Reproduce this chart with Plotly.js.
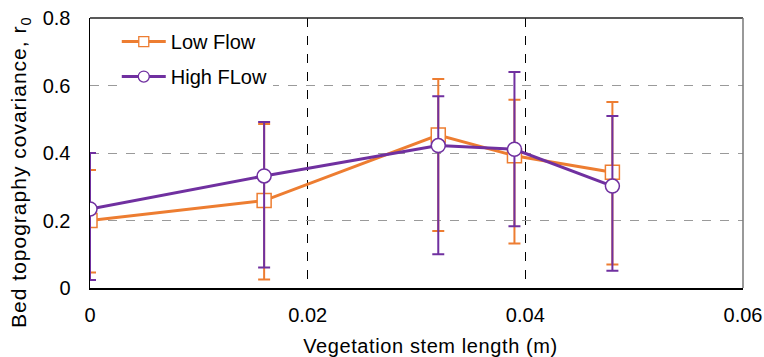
<!DOCTYPE html>
<html>
<head>
<meta charset="utf-8">
<script src="https://cdn.plot.ly/plotly-3.0.1.min.js"></script>
<style>
html,body{margin:0;padding:0;background:#fff;}
#chart{width:764px;height:357px;}
#chart .annotation-text{letter-spacing:0.6px;}
</style>
</head>
<body>
<div id="chart"></div>
<script>
var stemLength = [0, 0.016, 0.032, 0.039, 0.048];
var lowFlow = [0.20, 0.259, 0.453, 0.392, 0.343];
var lowFlowUpper = [0.35, 0.486, 0.619, 0.558, 0.551];
var lowFlowLower = [0.046, 0.025, 0.169, 0.132, 0.070];
var highFlow = [0.234, 0.332, 0.422, 0.411, 0.302];
var highFlowUpper = [0.40, 0.492, 0.568, 0.640, 0.510];
var highFlowLower = [0.024, 0.061, 0.100, 0.183, 0.051];
var xTicks = [0, 0.02, 0.04, 0.06];
var xTickText = ['0', '0.02', '0.04', '0.06'];
var yTicks = [0, 0.2, 0.4, 0.6, 0.8];
var yTickText = ['0', '0.2', '0.4', '0.6', '0.8'];
var seriesNames = ['Low Flow', 'High FLow'];

var orange = '#ED7D31';
var purple = '#7030A0';

function diff(a, b) { return a.map(function (v, i) { return v - b[i]; }); }

var traces = [
  {
    x: stemLength, y: lowFlow, name: seriesNames[0], type: 'scatter', mode: 'lines+markers',
    showlegend: false,
    line: {color: orange, width: 3},
    marker: {symbol: 'square', size: 14, color: '#fff', line: {color: orange, width: 1.5}},
    error_y: {type: 'data', symmetric: false, array: diff(lowFlowUpper, lowFlow), arrayminus: diff(lowFlow, lowFlowLower),
      color: orange, thickness: 2, width: 6}
  },
  {
    x: stemLength, y: highFlow, name: seriesNames[1], type: 'scatter', mode: 'lines+markers',
    showlegend: false,
    line: {color: purple, width: 3},
    marker: {symbol: 'circle', size: 14, color: '#fff', line: {color: purple, width: 1.5}},
    error_y: {type: 'data', symmetric: false, array: diff(highFlowUpper, highFlow), arrayminus: diff(highFlow, highFlowLower),
      color: purple, thickness: 2, width: 6}
  },
  // legend entries (no data points drawn)
  {
    x: [null], y: [null], name: seriesNames[0], type: 'scatter', mode: 'lines+markers',
    legendgroup: 'a',
    line: {color: orange, width: 3},
    marker: {symbol: 'square', size: 10, color: '#fff', line: {color: orange, width: 1.3}}
  },
  {
    x: [null], y: [null], name: seriesNames[1], type: 'scatter', mode: 'lines+markers',
    legendgroup: 'b',
    line: {color: purple, width: 3},
    marker: {symbol: 'circle', size: 11, color: '#fff', line: {color: purple, width: 1.3}}
  }
];

var font = {family: 'Arial, Liberation Sans, sans-serif', size: 20, color: '#000'};
var titleFont = {family: 'Arial, Liberation Sans, sans-serif', size: 21, color: '#000'};

var layout = {
  width: 764, height: 357,
  margin: {l: 90, r: 21, t: 18, b: 69},
  paper_bgcolor: '#fff', plot_bgcolor: '#fff',
  font: font,
  showlegend: true,
  legend: {x: 0.041, y: 0.985, xanchor: 'left', yanchor: 'top', bgcolor: '#fff',
    font: font, traceorder: 'grouped', tracegroupgap: 6, itemwidth: 44},
  xaxis: {
    range: [0, 0.06], tickvals: xTicks, ticktext: xTickText,
    showgrid: true, gridcolor: '#000', griddash: 'dash', gridwidth: 1,
    showline: true, linecolor: '#000', linewidth: 1.5, mirror: false,
    zeroline: false, ticks: 'outside', ticklen: 8, tickcolor: 'rgba(0,0,0,0)',
    tickfont: font
  },
  yaxis: {
    range: [0, 0.8], tickvals: yTicks, ticktext: yTickText,
    showgrid: true, gridcolor: '#9a9a9a', griddash: 'dash', gridwidth: 1,
    showline: true, linecolor: '#000', linewidth: 1.5,
    zeroline: false, ticks: 'outside', ticklen: 14, tickcolor: 'rgba(0,0,0,0)',
    tickfont: font
  },
  annotations: [
    {xref: 'paper', yref: 'paper', x: 0.522, y: 0, yshift: -58, xanchor: 'center', yanchor: 'middle',
      showarrow: false, text: 'Vegetation stem length (m)', font: font},
    {xref: 'paper', yref: 'paper', x: 0, xshift: -70, y: 0.43, xanchor: 'center', yanchor: 'middle',
      textangle: -90, showarrow: false,
      text: '<span style="letter-spacing:1px">Bed topography covariance, r<sub>0</sub></span>', font: titleFont}
  ],
  shapes: [
    {type: 'line', xref: 'paper', yref: 'paper', x0: 0, x1: 1, y0: 1, y1: 1, line: {color: '#222', width: 1.5}},
    {type: 'line', xref: 'paper', yref: 'paper', x0: 1, x1: 1, y0: 0, y1: 1, line: {color: '#777', width: 1.5}}
  ]
};

Plotly.newPlot('chart', traces, layout, {displayModeBar: false, staticPlot: true});
</script>
</body>
</html>
